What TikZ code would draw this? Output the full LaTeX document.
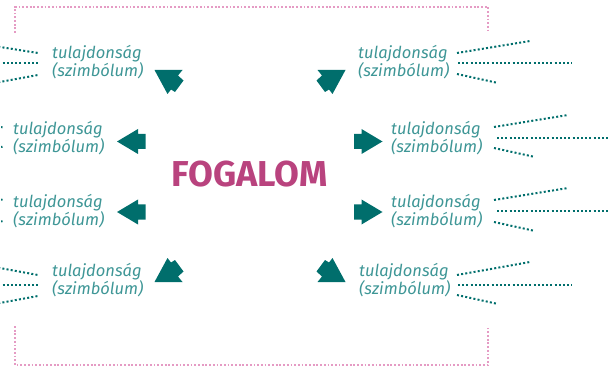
\documentclass[tikz,border=0pt]{standalone}
\usepackage{fontspec}
\setsansfont{Fira Sans}
\definecolor{labcol}{HTML}{3E9696}
\definecolor{arrcol}{HTML}{006E6C}
\definecolor{dotcol}{HTML}{006E6C}
\definecolor{pinkcol}{HTML}{E59BC4}
\definecolor{fogcol}{HTML}{B9437E}
\begin{document}
\begin{tikzpicture}[x=1pt,y=-1pt,
  lab/.style={font=\sffamily\itshape\fontsize{16.5}{18}\selectfont, text=labcol, align=left, inner sep=0pt, anchor=west},
  dots/.style={draw=dotcol, line width=2pt, dash pattern=on 2pt off 2.2pt},
  frame/.style={draw=pinkcol, line width=2pt, dash pattern=on 1.8pt off 1.9pt},
  blk/.style={fill=arrcol, draw=none}]
\useasboundingbox (0,0) rectangle (610,366);
\clip (0,0) rectangle (610,366);
% frame
\draw[frame] (15,33) -- (15,7) -- (488,7) -- (488,33);
\draw[frame] (15,326) -- (15,365) -- (488,365) -- (488,326);
% labels
\node[lab] (tl) at (52,62) {tulajdonság\\(szimbólum)};
\node[lab] (ml1) at (13,138) {tulajdonság\\(szimbólum)};
\node[lab] (ml2) at (13,211) {tulajdonság\\(szimbólum)};
\node[lab] (bl) at (52,280) {tulajdonság\\(szimbólum)};
\node[lab] (tr) at (358,62) {tulajdonság\\(szimbólum)};
\node[lab] (mr1) at (391,138) {tulajdonság\\(szimbólum)};
\node[lab] (mr2) at (391,211) {tulajdonság\\(szimbólum)};
\node[lab] (br) at (359,280) {tulajdonság\\(szimbólum)};
\node[font=\sffamily\bfseries\fontsize{36}{40}\selectfont, text=fogcol, inner sep=0pt] (fog) at (249.5,174) {FOGALOM};
% horizontal arrows
\fill[blk] (117,141.5) -- ++(21,-12.5) -- ++(0,5) -- ++(7.5,0) -- ++(0,15) -- ++(-7.5,0) -- ++(0,5) -- cycle;
\fill[blk] (117,212) -- ++(21,-12.5) -- ++(0,5) -- ++(7.5,0) -- ++(0,15) -- ++(-7.5,0) -- ++(0,5) -- cycle;
\fill[blk] (382.5,141.5) -- ++(-21,-12.5) -- ++(0,5) -- ++(-7.5,0) -- ++(0,15) -- ++(7.5,0) -- ++(0,5) -- cycle;
\fill[blk] (382.5,212) -- ++(-21,-12.5) -- ++(0,5) -- ++(-7.5,0) -- ++(0,15) -- ++(7.5,0) -- ++(0,5) -- cycle;
% diagonal arrows
\fill[blk] (154.5,70) -- (182.5,70) -- (178,75.5) -- (183.5,80.5) -- (175,92) -- (171,89.5) -- (167.5,94) -- cycle;
\fill[blk] (345.5,70) -- (317.5,70) -- (322,75.5) -- (316.5,80.5) -- (325,92) -- (329,89.5) -- (332.5,94) -- cycle;
\fill[blk] (154.5,282) -- (182.5,282) -- (178,276.5) -- (183.5,271.5) -- (175,260) -- (171,262.5) -- (167.5,258) -- cycle;
\fill[blk] (345.5,282) -- (317.5,282) -- (322,276.5) -- (316.5,271.5) -- (325,260) -- (329,262.5) -- (332.5,258) -- cycle;
% fan end points
\foreach \n/\x/\y in {
  a1/-10/45.4, a2/38/53, a3/-10/63, a4/38/63, a5/-10/83.8, a6/38/75,
  b1/-10/266.2, b2/38/275, b3/-10/285, b4/38/285, b5/-10/304.8, b6/38/296,
  c1/457/53, c2/530/41, c3/458/63, c4/572/63, c5/457/74, c6/498/83,
  d1/457/275, d2/530/262, d3/458/285, d4/572/285, d5/457/295, d6/498/304,
  e1/494/127, e2/568/115, e3/497/138, e4/620/138, e5/494/148, e6/535/157,
  f1/494/200, f2/568/188, f3/497/211, f4/620/211, f5/494/222, f6/535/231,
  g1/-3/126.5, g2/2.5/127.3, g3/-3/147.5, g4/2.5/146.8,
  h1/-3/199, h2/2.5/199.8, h3/-3/222, h4/2.5/221.2}
  \coordinate (\n) at (\x,\y);
\foreach \p/\q in {a1/a2,a3/a4,a5/a6,b1/b2,b3/b4,b5/b6,c1/c2,c3/c4,c5/c6,
  d1/d2,d3/d4,d5/d6,e1/e2,e3/e4,e5/e6,f1/f2,f3/f4,f5/f6,g1/g2,g3/g4,h1/h2,h3/h4}
  \draw[dots] (\p) -- (\q);
\end{tikzpicture}
\end{document}
